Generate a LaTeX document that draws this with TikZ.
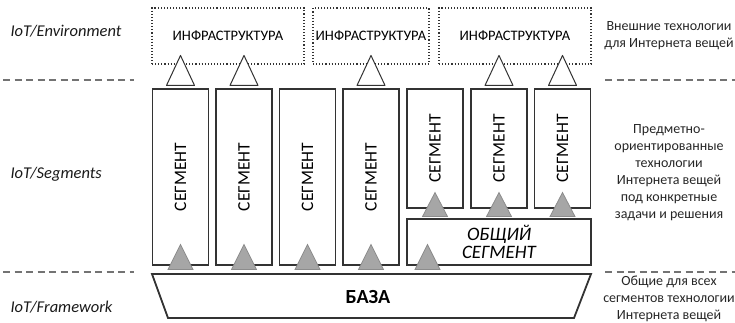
\documentclass[tikz,border=0pt]{standalone}
\usepackage{fontspec}
\setmainfont{Carlito}
\usetikzlibrary{calc}
\begin{document}
\begin{tikzpicture}[x=1pt,y=-1pt,
  line/.style={draw=black!80, line width=1.1pt},
  seg/.style={line, minimum width=56pt, inner sep=0pt},
  tall/.style={seg, minimum height=176pt},
  short/.style={seg, minimum height=119pt},
  infra/.style={draw=black!80, line width=1.1pt, dotted, minimum width=#1, minimum height=56pt, inner sep=0pt, font=\fontsize{14.5}{16}\selectfont},
  segtext/.style={rotate=90, font=\fontsize{17.5}{19}\selectfont},
  layer/.style={anchor=west, font=\fontsize{16.5}{18}\selectfont\itshape, text=black!90},
  note/.style={align=center, font=\fontsize{14}{17}\selectfont, text=black!85},
  sep/.style={draw=black!55, line width=1.1pt, dash pattern=on 7pt off 4.5pt},
  uptri/.style={draw=black!80, line width=1pt, fill=white, line join=round},
  graytri/.style={draw=black!45, line width=0.8pt, fill=black!35},
]
\useasboundingbox (0,0) rectangle (735,322);

% layer names
\node[layer] (env) at (7,31) {IoT/Environment};
\node[layer] (sgm) at (7,174) {IoT/Segments};
\node[layer] (fw)  at (7,307) {IoT/Framework};

% layer separators
\draw[sep] (3,80) -- (134,80);
\draw[sep] (605,80) -- (735,80);
\draw[sep] (3,272) -- (134,272);
\draw[sep] (605,272) -- (735,272);

% external infrastructure
\node[infra=152pt] (i1) at (228,36) {ИНФРАСТРУКТУРА};
\node[infra=116pt] (i2) at (371,36) {ИНФРАСТРУКТУРА};
\node[infra=152pt] (i3) at (515,36) {ИНФРАСТРУКТУРА};

% segments
\node[tall] (s1) at (180.5,177) {};
\node[tall] (s2) at (244,177) {};
\node[tall] (s3) at (307.5,177) {};
\node[tall] (s4) at (371,177) {};
\node[short] (s5) at (435,148.5) {};
\node[short] (s6) at (499,148.5) {};
\node[short] (s7) at (562.5,148.5) {};
\foreach \s in {s1,s2,s3,s4,s5,s6,s7}
  \node[segtext] at (\s.center) {СЕГМЕНТ};

% common segment
\node[line, minimum width=184pt, minimum height=46pt, inner sep=0pt,
      align=center, font=\fontsize{19}{17.5}\selectfont\itshape] (cs) at (499,242)
      {ОБЩИЙ\\СЕГМЕНТ};

% framework base
\draw[line, line width=1.8pt, line join=miter] (152,274) -- (591,274) -- (574,318) -- (168,318) -- cycle;
\node[font=\fontsize{20}{22}\selectfont\bfseries] (base) at (368,297) {БАЗА};

% links from segments to the infrastructure
\foreach \s in {s1,s2,s4,s6,s7}
  \path[uptri] ($(\s.north)+(-14,-3)$) -- ($(\s.north)+(14,-3)$) -- ($(\s.north)+(0,-33)$) -- cycle;

% links from the base to the segments
\foreach \s in {s1,s2,s3,s4}
  \path[graytri] ($(\s.south)+(-12.5,4)$) -- ($(\s.south)+(12.5,4)$) -- ($(\s.south)+(0,-21)$) -- cycle;
\coordinate (cb) at ($(cs.south west)+(21,0)$);
\path[graytri] ($(cb)+(-12.5,4)$) -- ($(cb)+(12.5,4)$) -- ($(cb)+(0,-21)$) -- cycle;

% links from the common segment to the segments above it
\foreach \s in {s5,s6,s7}
  \path[graytri] ($(\s.south)+(-12.5,8)$) -- ($(\s.south)+(12.5,8)$) -- ($(\s.south)+(0,-16)$) -- cycle;

% layer descriptions
\node[note] (n1) at (669,36) {Внешние технологии\\для Интернета вещей};
\node[note] (n2) at (669,173) {Предметно-\\ориентированные\\технологии\\Интернета вещей\\под конкретные\\задачи и решения};
\node[note] (n3) at (669,298.5) {Общие для всех\\сегментов технологии\\Интернета вещей};
\end{tikzpicture}
\end{document}
